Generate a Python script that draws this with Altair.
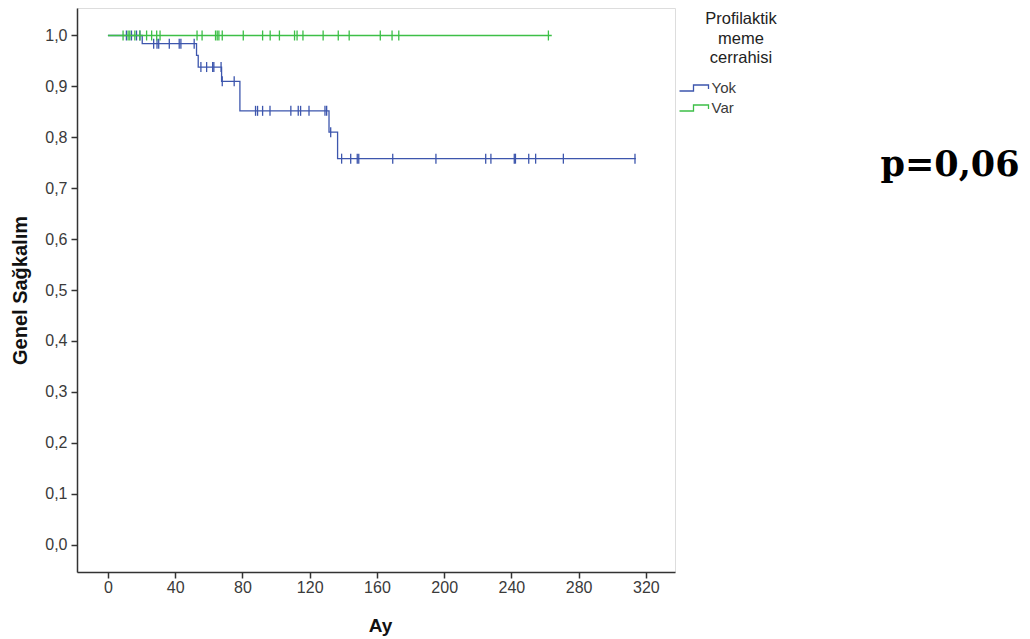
import altair as alt
import pandas as pd

groups = ["Yok", "Var"]
colors = ["#3d56ad", "#3dbf47"]

# Kaplan-Meier steps (time in months, survival)
yok_step_t = [0, 20.4, 52.7, 53.7, 67.6, 78.5, 131.5, 136.6, 314]
yok_step_s = [1.0, 0.984, 0.961, 0.938, 0.910, 0.852, 0.810, 0.758, 0.758]
var_step_t = [0, 264]
var_step_s = [1.0, 1.0]

# censored observations
yok_cens_t = [11, 14, 17, 19, 27.2, 29.2, 30.2, 36.5, 42.4, 43.4, 51.3,
              55.3, 58.7, 62.3, 63.0, 67.3, 68.0, 75.1,
              87.8, 89.0, 92.0, 96.4, 108.8, 113.2, 114.6, 119.6, 129.1, 130.1,
              132.5, 139, 144.4, 148.3, 149.2, 169.4, 195.1, 224.7, 227.8,
              241.7, 242.4, 250.3, 254.4, 270.9, 313.5]
var_cens_t = [9, 12, 13, 16, 19, 23, 26, 29, 31, 53, 56, 64, 65, 66, 68,
              80.5, 92, 96.5, 102, 111, 112.5, 116, 128, 137, 143.5, 162,
              169, 173, 262]

x_ticks = [0, 40, 80, 120, 160, 200, 240, 280, 320]
y_ticks = [0.0, 0.1, 0.2, 0.3, 0.4, 0.5, 0.6, 0.7, 0.8, 0.9, 1.0]

legend_title = ["Profilaktik\nmeme\ncerrahisi"]
p_text = ["p=0,06"]


def surv_at(ts, ss, t):
    val = ss[0]
    for ti, si in zip(ts, ss):
        if t >= ti:
            val = si
    return val


steps_yok = pd.DataFrame({"t": yok_step_t, "s": yok_step_s, "g": "Yok"})
steps_var = pd.DataFrame({"t": var_step_t, "s": var_step_s, "g": "Var"})
cens_yok = pd.DataFrame({"t": yok_cens_t,
                         "s": [surv_at(yok_step_t, yok_step_s, t) for t in yok_cens_t],
                         "g": "Yok"})
cens_var = pd.DataFrame({"t": var_cens_t,
                         "s": [surv_at(var_step_t, var_step_s, t) for t in var_cens_t],
                         "g": "Var"})

FONT = "Liberation Sans"
LBL = "#3a3a3a"

x_enc = alt.X(
    "t:Q",
    scale=alt.Scale(domain=[-18.4, 337.3], nice=False, zero=False),
    axis=alt.Axis(
        values=x_ticks, format="d", title="Ay", grid=False,
        tickSize=6, tickColor="#333333", tickWidth=1.5,
        domainColor="#333333", domainWidth=1.5,
        labelFont=FONT, labelFontSize=16, labelColor=LBL, labelPadding=1,
        titleFont=FONT, titleFontSize=19, titleFontWeight="bold", titleColor="#111111",
        titleX=303, titleY=53, titleBaseline="middle", titleAlign="center",
    ),
)
y_enc = alt.Y(
    "s:Q",
    scale=alt.Scale(domain=[-0.054, 1.054], nice=False, zero=False),
    axis=alt.Axis(
        values=y_ticks, title="Genel Sağkalım", grid=False,
        labelExpr="replace(format(datum.value, '.1f'), '.', ',')",
        tickSize=6, tickColor="#333333", tickWidth=1.5,
        domainColor="#333333", domainWidth=1.5,
        labelFont=FONT, labelFontSize=16, labelColor=LBL, labelPadding=4,
        titleFont=FONT, titleFontSize=20, titleFontWeight="bold", titleColor="#111111",
        titleX=-57, titleY=282, titleAngle=270, titleAlign="center", titleBaseline="middle",
    ),
)
color_scale = alt.Scale(domain=groups, range=colors)
color_enc = alt.Color(
    "g:N",
    scale=color_scale,
    sort=groups,
    legend=alt.Legend(
        orient="none", legendX=611, legendY=72.5, title=None, padding=0,
        symbolType="M-3.2,0.6L-0.4,0.6L-0.4,-0.6L2.6,-0.6L2.6,0.2",
        symbolSize=100, symbolStrokeWidth=1.3, symbolFillColor="transparent",
        labelFont=FONT, labelFontSize=15, labelColor=LBL, labelOffset=8.5,
        rowPadding=4,
    ),
)
color_plain = alt.Color("g:N", scale=color_scale)


def line_layer(df, enc, w):
    return alt.Chart(df).mark_line(interpolate="step-after", strokeWidth=w).encode(
        x=x_enc, y=y_enc, color=enc, order=alt.Order("t:Q"))


def tick_layer(df):
    return alt.Chart(df).mark_point(
        shape="M0,-1L0,1", size=100, strokeWidth=1.3, filled=False, opacity=1
    ).encode(x="t:Q", y="s:Q", color=color_plain)


leg_title = alt.Chart(pd.DataFrame({"txt": legend_title})).mark_text(
    font=FONT, fontSize=16.5, color="#222222", align="center", baseline="top",
    lineBreak="\n", lineHeight=19.5,
).encode(x=alt.value(664), y=alt.value(3), text="txt:N")

p_lab = alt.Chart(pd.DataFrame({"txt": p_text})).mark_text(
    font="DejaVu Serif", fontSize=35, fontWeight="bold", color="#000000",
    align="center", baseline="middle",
).encode(x=alt.value(873), y=alt.value(157), text="txt:N")

chart = alt.layer(
    line_layer(steps_yok, color_enc, 1.3), tick_layer(cens_yok),
    line_layer(steps_var, color_plain, 1.5), tick_layer(cens_var),
    leg_title, p_lab,
).properties(
    width=598, height=564,
    autosize=alt.AutoSizeParams(type="none"),
    padding={"left": 69, "top": 0, "right": 346, "bottom": 66},
).configure_view(stroke="#808080", strokeWidth=2).configure(background="white")

chart.save("out.html", embed_options={"renderer": "svg", "actions": False})
